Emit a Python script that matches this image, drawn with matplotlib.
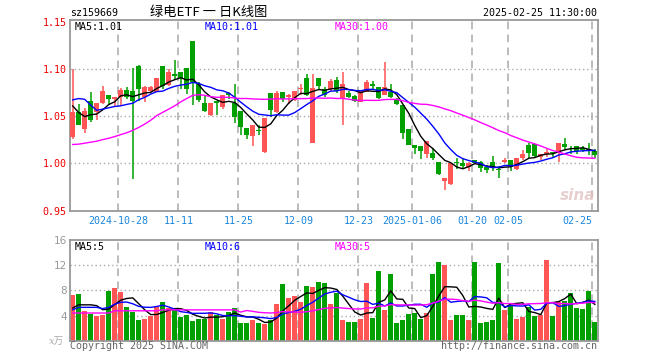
import numpy as np
import pandas as pd
import matplotlib
matplotlib.use("Agg")
import matplotlib.pyplot as plt

# daily candles, 2024-10-16 .. 2025-02-25 (88 trading days)
opens = [1.0278, 1.0542, 1.0368, 1.0660, 1.0542, 1.0646, 1.0729, 1.0688, 1.0708, 1.0781,
         1.0764, 1.1030, 1.0701, 1.0771, 1.0757, 1.1035, 1.0833, 1.0944, 1.0965, 1.1014,
         1.1299, 1.0840, 1.0646, 1.0514, 1.0667, 1.0597, 1.0750, 1.0646, 1.0556, 1.0375,
         1.0292, 1.0354, 1.0118, 1.0743, 1.0549, 1.0757, 1.0701, 1.0674, 1.0792, 1.0903,
         1.0222, 1.0910, 1.0785, 1.0785, 1.0889, 1.0688, 1.0750, 1.0715, 1.0653, 1.0757,
         1.0847, 1.0813, 1.0729, 1.0757, 1.0674, 1.0618, 1.0361, 1.0201, 1.0181, 1.0104,
         1.0111, 1.0014, 0.9819, 0.9778, 1.0021, 1.0007, 0.9965, 1.0035, 1.0014, 0.9965,
         1.0014, 0.9944, 1.0014, 1.0042, 0.9938, 1.0056, 1.0201, 1.0208, 1.0069, 1.0097,
         1.0118, 1.0125, 1.0208, 1.0167, 1.0181, 1.0160, 1.0153, 1.0132]
highs = [1.1000, 1.0625, 1.0583, 1.0757, 1.0646, 1.0819, 1.0729, 1.0708, 1.0799, 1.0806,
         1.1014, 1.1040, 1.0826, 1.0826, 1.0910, 1.1035, 1.1000, 1.1097, 1.0965, 1.1014,
         1.1299, 1.0868, 1.0722, 1.0646, 1.0667, 1.0722, 1.0757, 1.0840, 1.0556, 1.0375,
         1.0403, 1.0410, 1.0479, 1.0743, 1.0764, 1.0757, 1.0736, 1.0764, 1.0840, 1.0944,
         1.0944, 1.0910, 1.0806, 1.0896, 1.0917, 1.0965, 1.0771, 1.0722, 1.0764, 1.0889,
         1.0875, 1.0813, 1.1076, 1.0840, 1.0694, 1.0618, 1.0368, 1.0201, 1.0181, 1.0243,
         1.0167, 1.0014, 0.9847, 1.0007, 1.0056, 1.0063, 1.0014, 1.0042, 1.0028, 0.9986,
         1.0076, 0.9972, 1.0063, 1.0042, 1.0056, 1.0146, 1.0215, 1.0208, 1.0097, 1.0160,
         1.0125, 1.0222, 1.0271, 1.0181, 1.0181, 1.0181, 1.0215, 1.0153]
lows = [1.0264, 1.0403, 1.0319, 1.0438, 1.0458, 1.0625, 1.0632, 1.0604, 1.0604, 1.0688,
        0.9833, 1.0660, 1.0653, 1.0760, 1.0757, 1.0792, 1.0826, 1.0889, 1.0792, 1.0736,
        1.0618, 1.0653, 1.0542, 1.0500, 1.0514, 1.0576, 1.0680, 1.0424, 1.0299, 1.0264,
        1.0181, 1.0306, 1.0111, 1.0493, 1.0535, 1.0653, 1.0632, 1.0667, 1.0729, 1.0715,
        1.0215, 1.0785, 1.0701, 1.0771, 1.0750, 1.0403, 1.0694, 1.0653, 1.0653, 1.0757,
        1.0792, 1.0688, 1.0729, 1.0694, 1.0618, 1.0257, 1.0194, 1.0104, 1.0049, 1.0056,
        1.0035, 0.9875, 0.9722, 0.9771, 0.9938, 0.9938, 0.9924, 0.9993, 0.9910, 0.9903,
        0.9924, 0.9847, 1.0000, 0.9924, 0.9931, 1.0042, 1.0056, 1.0063, 1.0035, 1.0069,
        1.0069, 1.0014, 1.0139, 1.0104, 1.0104, 1.0118, 1.0090, 1.0056]
closes = [1.0542, 1.0410, 1.0556, 1.0465, 1.0646, 1.0764, 1.0688, 1.0708, 1.0778, 1.0701,
          1.0667, 1.0784, 1.0806, 1.0806, 1.0910, 1.0819, 1.0972, 1.0931, 1.0910, 1.0792,
          1.0861, 1.0674, 1.0556, 1.0646, 1.0639, 1.0722, 1.0730, 1.0493, 1.0382, 1.0299,
          1.0403, 1.0347, 1.0479, 1.0569, 1.0743, 1.0681, 1.0729, 1.0764, 1.0799, 1.0729,
          1.0799, 1.0826, 1.0722, 1.0875, 1.0764, 1.0847, 1.0708, 1.0667, 1.0764, 1.0868,
          1.0819, 1.0694, 1.0806, 1.0708, 1.0625, 1.0319, 1.0201, 1.0160, 1.0132, 1.0236,
          1.0063, 0.9889, 0.9847, 1.0007, 1.0007, 0.9972, 1.0000, 1.0007, 0.9951, 0.9931,
          0.9951, 0.9931, 1.0042, 0.9972, 1.0056, 1.0097, 1.0111, 1.0076, 1.0097, 1.0118,
          1.0111, 1.0222, 1.0174, 1.0160, 1.0132, 1.0146, 1.0139, 1.0090]
volumes = [7.30, 7.47, 4.75, 4.32, 4.00, 4.10, 7.95, 8.32, 7.79, 5.39,
           4.59, 3.31, 3.47, 4.00, 5.44, 6.19, 5.12, 4.80, 3.84, 4.10,
           3.15, 3.47, 3.47, 4.53, 4.10, 3.47, 4.59, 5.23, 2.83, 2.83,
           3.31, 2.83, 2.67, 3.25, 5.87, 9.07, 6.83, 7.15, 6.19, 8.75,
           8.59, 9.39, 9.23, 5.87, 7.63, 3.31, 2.99, 2.99, 3.47, 9.23,
           3.63, 11.15, 4.91, 10.67, 2.83, 3.31, 4.27, 4.43, 3.47, 4.43,
           10.67, 12.43, 11.95, 3.31, 4.10, 4.10, 3.31, 12.43, 2.83, 2.99,
           3.31, 12.27, 4.91, 5.71, 3.47, 3.79, 5.39, 3.95, 4.10, 12.90,
           3.95, 6.19, 6.35, 7.63, 5.23, 5.07, 7.95, 2.99]

# moving-average values before enough history exists
ma5_head = [1.0610, 1.0540, 1.0497, 1.0517]
ma10_head = [1.0674, 1.0688, 1.0680, 1.0618, 1.0563, 1.0576, 1.0590, 1.0604, 1.0611]
ma30_head = [1.0201, 1.0205, 1.0215, 1.0226, 1.0236, 1.0253, 1.0267, 1.0285, 1.0306, 1.0326,
             1.0351, 1.0382, 1.0417, 1.0458, 1.0507, 1.0542, 1.0576, 1.0611, 1.0653, 1.0688,
             1.0722, 1.0729, 1.0722, 1.0708, 1.0701, 1.0701, 1.0701, 1.0694, 1.0688]
vma5_head = [5.2, 5.7, 5.7, 5.7]
vma10_head = [4.9, 5.3, 5.3, 5.3, 5.3, 5.1, 5.3, 5.8, 6.1]
vma30_head = [4.4] * 7 + [4.75] * 8 + [4.9] * 13 + [4.55]

tick_idx = [8, 18, 28, 38, 48, 57, 67, 73, 87]
tick_labels = ['2024-10-28', '11-11', '11-25', '12-09', '12-23',
               '2025-01-06', '01-20', '02-05', '02-25']

RED = '#ff5555'
GREEN = '#00a000'
MONO = 'DejaVu Sans Mono'


def moving(values, n, head):
    out = pd.Series(values).rolling(n).mean().to_numpy()
    out[:len(head)] = head
    return out


o = np.array(opens)
h = np.array(highs)
l = np.array(lows)
c = np.array(closes)
v = np.array(volumes)
x = np.arange(len(c))
up = c >= o
cols = np.where(up, RED, GREEN)

W, H = 660, 360
fig = plt.figure(figsize=(6.6, 3.6), dpi=100)


def px(x0, y0, x1, y1):
    return [x0 / W, 1 - y1 / H, (x1 - x0) / W, (y1 - y0) / H]


ax = fig.add_axes(px(70, 20, 597.5, 210.7))
axv = fig.add_axes(px(70, 240, 597.5, 340.7))

for a in (ax, axv):
    a.set_xlim(-0.45, 87.45)
    for s in a.spines.values():
        s.set_color('#999999')
        s.set_linewidth(1.3)
    for t in tick_idx:
        a.axvline(t - 0.4, color='#aaaaaa', lw=1.1, ls=(0, (5, 3.5)), zorder=0)
    a.tick_params(length=0)

# price panel
ax.set_ylim(0.95, 1.152)
for yv in (1.00, 1.05, 1.10):
    ax.axhline(yv, color='#aaaaaa', lw=1, ls=(0, (1, 2)), zorder=0)
ax.vlines(x, l, h, colors=cols, lw=1.1, zorder=2)
body = np.maximum(np.abs(c - o), 0.0009)
ax.bar(x, body, bottom=np.minimum(o, c), width=0.86, color=cols, lw=0, zorder=3)
ax.plot(x, moving(c, 5, ma5_head), color='black', lw=1, zorder=4)
ax.plot(x, moving(c, 10, ma10_head), color='#0000ff', lw=1, zorder=4)
ax.plot(x, moving(c, 30, ma30_head), color='#ff00ff', lw=1, zorder=4)
ax.set_yticks([0.95, 1.00, 1.05, 1.10, 1.15])
ax.set_yticklabels(['%.2f' % t for t in [0.95, 1.00, 1.05, 1.10, 1.15]],
                   color='#ee0000', family=MONO, fontsize=7.2)
ax.tick_params(axis='y', pad=2.4)
ax.set_xticks([t - 0.4 for t in tick_idx])
ax.set_xticklabels(tick_labels, color='#1a86dc', family=MONO, fontsize=7.2)
ax.tick_params(axis='x', pad=4)
ax.get_xticklabels()[-1].set_ha('right')
ax.text(0.995, 0.04, 'sina', transform=ax.transAxes, ha='right', va='bottom',
        fontsize=11, style='italic', weight='bold', color='#e3c4c4', alpha=0.8)

# volume panel
axv.set_ylim(0, 16)
for yv in (4, 8, 12):
    axv.axhline(yv, color='#aaaaaa', lw=1, ls=(0, (1, 2)), zorder=0)
axv.bar(x, v, width=0.88, color=cols, lw=0, zorder=2)
axv.plot(x, moving(v, 5, vma5_head), color='black', lw=1, zorder=3)
axv.plot(x, moving(v, 10, vma10_head), color='#0000ff', lw=1, zorder=3)
axv.plot(x, moving(v, 30, vma30_head), color='#ff00ff', lw=1, zorder=3)
axv.set_yticks([4, 8, 12, 16])
axv.set_yticklabels(['4', '8', '12', '16'], color='#999999', fontsize=7.5)
axv.tick_params(axis='y', pad=2.4)
axv.set_xticks([])


def ftext(xp, yp, s, **kw):
    fig.text(xp / W, 1 - yp / H, s, va='center', **kw)


ftext(70, 12.5, 'sz159669', family=MONO, fontsize=7.2, color='black')
ftext(209, 12, '绿电ETF 一 日K线图', family=['Noto Sans CJK SC', 'DejaVu Sans'],
      fontsize=9.5, ha='center', color='black')
ftext(597, 12.5, '2025-02-25 11:30:00', family=MONO, fontsize=7.2, ha='right', color='black')
ftext(75, 26.5, 'MA5:1.01', family=MONO, fontsize=7.2, color='black')
ftext(205, 26.5, 'MA10:1.01', family=MONO, fontsize=7.2, color='#0000ff')
ftext(335, 26.5, 'MA30:1.00', family=MONO, fontsize=7.2, color='#ff00ff')
ftext(75, 247, 'MA5:5', family=MONO, fontsize=7.2, color='black')
ftext(205, 247, 'MA10:6', family=MONO, fontsize=7.2, color='#0000ff')
ftext(335, 247, 'MA30:5', family=MONO, fontsize=7.2, color='#ff00ff')
ftext(49, 341, 'x万', family=['DejaVu Serif', 'Noto Sans CJK SC'], style='italic',
      fontsize=7, color='#aaaaaa')
ftext(70, 346, 'Copyright 2025 SINA.COM', family=MONO, fontsize=7.2, color='#666666')
ftext(597, 346, 'http://finance.sina.com.cn', family=MONO, fontsize=7.2, ha='right',
      color='#666666')

fig.savefig('out.png', dpi=100)
